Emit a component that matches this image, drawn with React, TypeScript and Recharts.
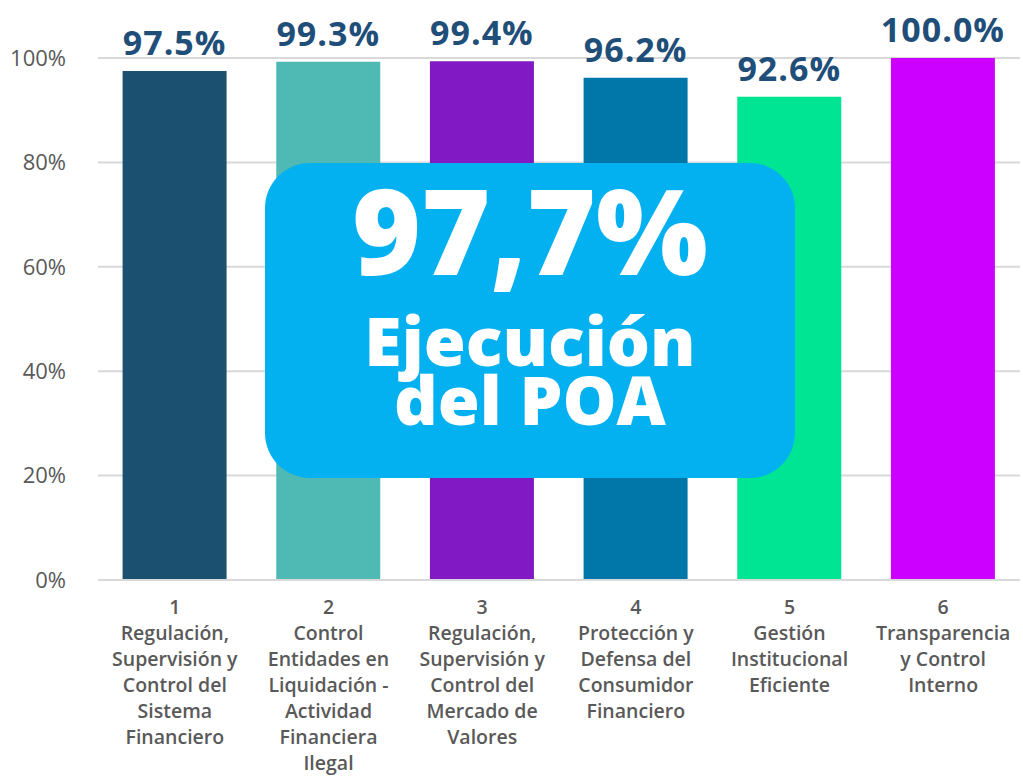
import React from "react";
import { BarChart, Bar, XAxis, YAxis, CartesianGrid, Cell, LabelList } from "recharts";

const numbers = ["1", "2", "3", "4", "5", "6"];
const nameLines = [
  ["Regulación,", "Supervisión y", "Control del", "Sistema", "Financiero"],
  ["Control", "Entidades en", "Liquidación -", "Actividad", "Financiera", "Ilegal"],
  ["Regulación,", "Supervisión y", "Control del", "Mercado de", "Valores"],
  ["Protección y", "Defensa del", "Consumidor", "Financiero"],
  ["Gestión", "Institucional", "Eficiente"],
  ["Transparencia", "y Control", "Interno"],
];
const values = [0.975, 0.993, 0.994, 0.962, 0.926, 1.0];
const colors = ["#1B5070", "#4FB9B3", "#8119C4", "#0077A8", "#00E594", "#CC00FF"];
const yTicks = [0, 0.2, 0.4, 0.6, 0.8, 1.0];
const totalText = "97,7%";
const boxLines = ["Ejecución", "del POA"];

const data = numbers.map((n, i) => ({ key: n, lines: [n, ...nameLines[i]], value: values[i] }));

const FONT = "'Open Sans', 'DejaVu Sans', sans-serif";

const XTick = (props: any) => {
  const { x, y, payload } = props;
  const item = data.find((d) => d.key === payload.value);
  const lines = item ? item.lines : [payload.value];
  return (
    <text x={x} y={y} textAnchor="middle" fill="#595959" fontFamily={FONT} fontWeight={600} fontSize={19.5}>
      {lines.map((l: string, i: number) => (
        <tspan key={i} x={x} y={y + 26 + i * 26}>
          {l}
        </tspan>
      ))}
    </text>
  );
};

const fmt = (v: number) => `${(v * 100).toFixed(1)}%`;

export default function App() {
  return (
    <div style={{ position: "absolute", left: 0, top: 0, width: 1023, height: 777, background: "#fff" }}>
      <BarChart
        width={1023}
        height={777}
        data={data}
        margin={{ top: 58, right: 3, bottom: 7, left: 0 }}
        barCategoryGap="16%"
      >
        <CartesianGrid vertical={false} stroke="#D9D9D9" strokeWidth={2} />
        <YAxis
          domain={[0, 1]}
          ticks={yTicks}
          width={98}
          axisLine={false}
          tickLine={false}
          tickFormatter={(v: number) => `${Math.round(v * 100)}%`}
          tick={{ fill: "#595959", fontSize: 22, fontFamily: FONT }}
          tickMargin={26}
        />
        <XAxis
          dataKey="key"
          height={190}
          axisLine={{ stroke: "#D9D9D9", strokeWidth: 2 }}
          tickLine={false}
          tick={<XTick />}
          interval={0}
        />
        <Bar dataKey="value" isAnimationActive={false}>
          {data.map((d, i) => (
            <Cell key={d.key} fill={colors[i]} />
          ))}
          <LabelList
            dataKey="value"
            position="top"
            offset={16}
            formatter={(v: any) => fmt(Number(v))}
            style={{ fill: "#1F4E79", fontSize: 34, fontWeight: 700, fontFamily: FONT, letterSpacing: 1 }}
          />
        </Bar>
      </BarChart>
      <svg
        width={1023}
        height={777}
        style={{ position: "absolute", left: 0, top: 0, pointerEvents: "none" }}
      >
        <rect x={265} y={163} width={530} height={315} rx={45} ry={45} fill="#03B0F0" />
        <text textAnchor="middle" fill="#fff" fontFamily={FONT} fontWeight={800}>
          <tspan x={530} y={275} fontSize={118}>
            {totalText}
          </tspan>
          <tspan x={530} y={366} fontSize={68}>
            {boxLines[0]}
          </tspan>
          <tspan x={530} y={425} fontSize={68}>
            {boxLines[1]}
          </tspan>
        </text>
      </svg>
    </div>
  );
}
